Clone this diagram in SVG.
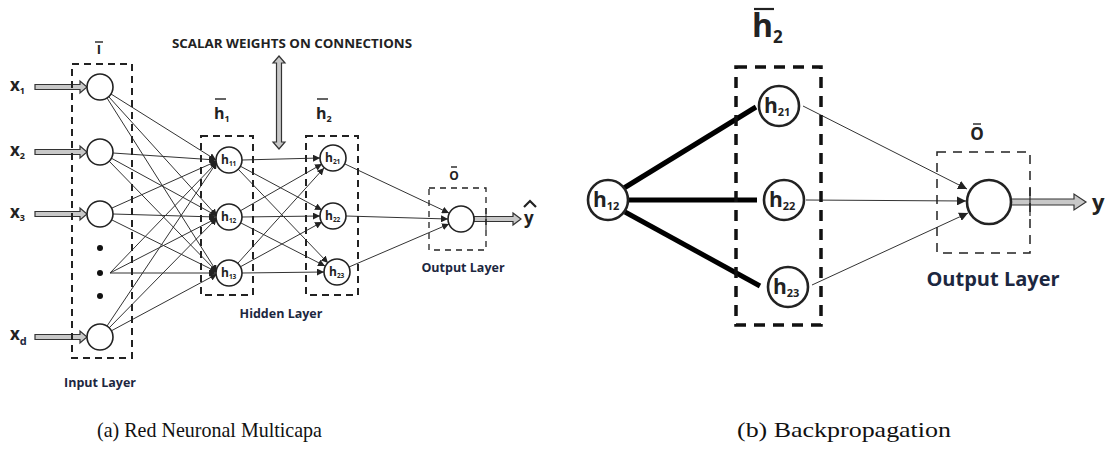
<svg xmlns="http://www.w3.org/2000/svg" width="1110" height="455" viewBox="0 0 1110 455">
<style>
.nd{fill:#fff;stroke:#222;stroke-width:1.6}
.ndb{fill:#fff;stroke:#222;stroke-width:2.6}
.box{fill:none;stroke:#222;stroke-width:2;stroke-dasharray:7,5}
.boxt{fill:none;stroke:#222;stroke-width:1.3;stroke-dasharray:6,5}
.boxb{fill:none;stroke:#111;stroke-width:3.5;stroke-dasharray:11,8}
.ln{stroke:#333;stroke-width:1;fill:none}
.lnb{stroke:#000;stroke-width:5;fill:none}
.dbl{fill:#c8c8c8;stroke:#333;stroke-width:1.2}
.t{font-family:"Open Sans","Liberation Sans",sans-serif;font-weight:700;fill:#222}
.lay{font-family:"Open Sans","Liberation Sans",sans-serif;font-weight:700;fill:#1c2740}
.cap{font-family:"Liberation Serif","DejaVu Serif",serif;fill:#111;font-size:21px}
.bar{stroke:#222;stroke-width:1.4}
</style>
<defs>
<marker id="ah" viewBox="0 0 10 10" refX="10" refY="5" markerWidth="7" markerHeight="7" markerUnits="userSpaceOnUse" orient="auto"><path d="M0,0 L10,5 L0,10 z" fill="#222"/></marker>
<marker id="ahb" viewBox="0 0 10 10" refX="10" refY="5" markerWidth="9" markerHeight="9" markerUnits="userSpaceOnUse" orient="auto"><path d="M0,0 L10,5 L0,10 z" fill="#222"/></marker>
</defs>

<!-- ===== Left diagram ===== -->
<g id="connectors-a">
<g class="ln" marker-end="url(#ah)">
<line x1="111" y1="94" x2="216" y2="160"/>
<line x1="109" y1="97" x2="217" y2="216"/>
<line x1="107" y1="98" x2="217" y2="272"/>
<line x1="113" y1="153" x2="216" y2="160"/>
<line x1="111" y1="158" x2="217" y2="216"/>
<line x1="109" y1="161" x2="217" y2="272"/>
<line x1="112" y1="208" x2="217" y2="161"/>
<line x1="113" y1="214" x2="216" y2="217"/>
<line x1="112" y1="220" x2="217" y2="272"/>
<line x1="110" y1="273" x2="217" y2="162"/>
<line x1="110" y1="273" x2="217" y2="218"/>
<line x1="110" y1="273" x2="216" y2="273"/>
<line x1="107" y1="326" x2="217" y2="162"/>
<line x1="109" y1="328" x2="217" y2="218"/>
<line x1="111" y1="331" x2="217" y2="274"/>
<line x1="242" y1="160" x2="320" y2="158"/>
<line x1="240" y1="166" x2="322" y2="210"/>
<line x1="238" y1="169" x2="328" y2="263"/>
<line x1="240" y1="211" x2="322" y2="164"/>
<line x1="242" y1="217" x2="320" y2="216"/>
<line x1="241" y1="223" x2="325" y2="266"/>
<line x1="238" y1="263" x2="324" y2="168"/>
<line x1="240" y1="267" x2="322" y2="222"/>
<line x1="242" y1="273" x2="324" y2="272"/>
<line x1="345" y1="164" x2="449" y2="213"/>
<line x1="346" y1="216" x2="448" y2="219"/>
<line x1="349" y1="267" x2="449" y2="224"/>
</g>
<!-- input double arrows -->
<path class="dbl" d="M35,84.5 H80 V81 L87,87 L80,93 V89.5 H35 Z"/>
<path class="dbl" d="M35,149.5 H80 V146 L87,152 L80,158 V154.5 H35 Z"/>
<path class="dbl" d="M35,211.5 H80 V208 L87,214 L80,220 V216.5 H35 Z"/>
<path class="dbl" d="M35,334.5 H80 V331 L87,337 L80,343 V339.5 H35 Z"/>
<!-- weight arrow -->
<path class="dbl" d="M276.5,63 L273,63 L279,56 L285,63 L281.5,63 V142 L285,142 L279,149 L273,142 L276.5,142 Z"/>
<!-- output arrow -->
<path class="dbl" d="M474,216.5 H513 V213 L521,219 L513,225 V221.5 H474 Z"/>
<line x1="486" y1="208" x2="486" y2="230" stroke="#222" stroke-width="1"/>
</g>

<g id="layer-input">
<rect class="box" x="72" y="64" width="60" height="294"/>
<line class="bar" x1="95" y1="42" x2="103" y2="42"/>
<text class="t" x="99" y="54" font-size="13" text-anchor="middle">I</text>
<text class="lay" x="100" y="387" font-size="12.5" text-anchor="middle">Input Layer</text>
</g>
<g id="node-x1"><circle class="nd" cx="100" cy="87" r="13"/><text class="t" x="10" y="91" font-size="17">x<tspan font-size="9" dy="3">1</tspan></text></g>
<g id="node-x2"><circle class="nd" cx="100" cy="152" r="13"/><text class="t" x="10" y="156" font-size="17">x<tspan font-size="9" dy="3">2</tspan></text></g>
<g id="node-x3"><circle class="nd" cx="100" cy="214" r="13"/><text class="t" x="10" y="218" font-size="17">x<tspan font-size="9" dy="3">3</tspan></text></g>
<g id="dots"><circle cx="100" cy="248" r="3" fill="#111"/><circle cx="100" cy="273" r="3" fill="#111"/><circle cx="100" cy="296" r="3" fill="#111"/></g>
<g id="node-xd"><circle class="nd" cx="100" cy="337" r="13"/><text class="t" x="10" y="340" font-size="17">x<tspan font-size="11" dy="5" fill="#1c2740">d</tspan></text></g>

<g id="layer-h1">
<rect class="box" x="201" y="136" width="52" height="159"/>
<line class="bar" x1="215" y1="99" x2="226" y2="99"/>
<text class="t" x="214" y="119" font-size="16">h<tspan font-size="9" dy="3">1</tspan></text>
</g>
<g id="node-h11"><circle class="nd" cx="229" cy="160" r="13"/><text class="t" x="221" y="164" font-size="12">h<tspan font-size="6.5" dy="2">11</tspan></text></g>
<g id="node-h12"><circle class="nd" cx="229" cy="217" r="13"/><text class="t" x="221" y="221" font-size="12">h<tspan font-size="6.5" dy="2">12</tspan></text></g>
<g id="node-h13"><circle class="nd" cx="229" cy="273" r="13"/><text class="t" x="221" y="277" font-size="12">h<tspan font-size="6.5" dy="2">13</tspan></text></g>

<g id="layer-h2">
<rect class="box" x="306" y="136" width="52" height="159"/>
<line class="bar" x1="317" y1="99" x2="328" y2="99"/>
<text class="t" x="316" y="119" font-size="16">h<tspan font-size="9" dy="3">2</tspan></text>
<text class="lay" x="281" y="318" font-size="12.5" text-anchor="middle">Hidden Layer</text>
</g>
<g id="node-h21"><circle class="nd" cx="333" cy="158" r="13"/><text class="t" x="325" y="162" font-size="12">h<tspan font-size="6.5" dy="2">21</tspan></text></g>
<g id="node-h22"><circle class="nd" cx="333" cy="216" r="13"/><text class="t" x="325" y="220" font-size="12">h<tspan font-size="6.5" dy="2">22</tspan></text></g>
<g id="node-h23"><circle class="nd" cx="337" cy="272" r="13"/><text class="t" x="329" y="276" font-size="12">h<tspan font-size="6.5" dy="2">23</tspan></text></g>

<g id="layer-out-a">
<rect class="boxt" x="429" y="188" width="57" height="62"/>
<line class="bar" x1="451" y1="167" x2="457" y2="167"/>
<text class="t" x="454" y="180" font-size="12" text-anchor="middle" fill="#1c2740">O</text>
<text class="lay" x="463" y="272" font-size="12.5" text-anchor="middle">Output Layer</text>
</g>
<g id="node-out-a"><circle class="nd" cx="461" cy="219" r="13"/></g>
<g id="label-yhat"><text class="t" x="524" y="224" font-size="17">y</text><path d="M524,207 L530,201 L536,207" fill="none" stroke="#222" stroke-width="2.2"/></g>
<g id="label-weights"><text class="t" x="292" y="48" font-size="12.5" text-anchor="middle" textLength="240" lengthAdjust="spacingAndGlyphs">SCALAR WEIGHTS ON CONNECTIONS</text></g>

<!-- ===== Right diagram ===== -->
<g id="connectors-b">
<line class="lnb" x1="624" y1="188" x2="756" y2="107"/>
<line class="lnb" x1="628" y1="200" x2="757" y2="200"/>
<line class="lnb" x1="625" y1="212" x2="760" y2="286"/>
<g class="ln" marker-end="url(#ahb)">
<line x1="803" y1="106" x2="967" y2="189"/>
<line x1="806" y1="200" x2="966" y2="201"/>
<line x1="812" y1="285" x2="968" y2="213"/>
</g>
<path class="dbl" d="M1011,199 H1074 V194 L1086,202 L1074,210 V205 H1011 Z"/>
<line x1="1030" y1="188" x2="1030" y2="216" stroke="#222" stroke-width="1.2"/>
</g>
<g id="layer-h2-b">
<rect class="boxb" x="736" y="67" width="85" height="258"/>
<line x1="754" y1="9" x2="774" y2="9" stroke="#222" stroke-width="2.2"/>
<text class="t" x="752" y="37" font-size="32">h<tspan font-size="17" dy="6">2</tspan></text>
</g>
<g id="node-h12-b"><circle class="ndb" cx="608" cy="200" r="20"/><text class="t" x="593" y="207" font-size="21">h<tspan font-size="11" dy="3">12</tspan></text></g>
<g id="node-h21-b"><circle class="ndb" cx="779" cy="106" r="20"/><text class="t" x="764" y="113" font-size="21">h<tspan font-size="11" dy="3">21</tspan></text></g>
<g id="node-h22-b"><circle class="ndb" cx="784" cy="200" r="20"/><text class="t" x="769" y="207" font-size="21">h<tspan font-size="11" dy="3">22</tspan></text></g>
<g id="node-h23-b"><circle class="ndb" cx="788" cy="287" r="20"/><text class="t" x="773" y="294" font-size="21">h<tspan font-size="11" dy="3">23</tspan></text></g>
<g id="layer-out-b">
<rect fill="none" stroke="#222" stroke-width="1.5" stroke-dasharray="9,7" x="937" y="152" width="93" height="101"/>
<line class="bar" x1="973" y1="124" x2="981" y2="124"/>
<text class="t" x="977" y="140" font-size="17" text-anchor="middle" fill="#1c2740">O</text>
<text class="lay" x="993" y="286" font-size="20" text-anchor="middle">Output Layer</text>
</g>
<g id="node-out-b"><circle class="ndb" cx="989" cy="202" r="22"/></g>
<g id="label-y"><text class="t" x="1092" y="210" font-size="22">y</text></g>

<!-- captions -->
<text class="cap" x="97" y="437" textLength="225" lengthAdjust="spacingAndGlyphs">(a) Red Neuronal Multicapa</text>
<text class="cap" x="737" y="437" textLength="214" lengthAdjust="spacingAndGlyphs">(b) Backpropagation</text>
</svg>
